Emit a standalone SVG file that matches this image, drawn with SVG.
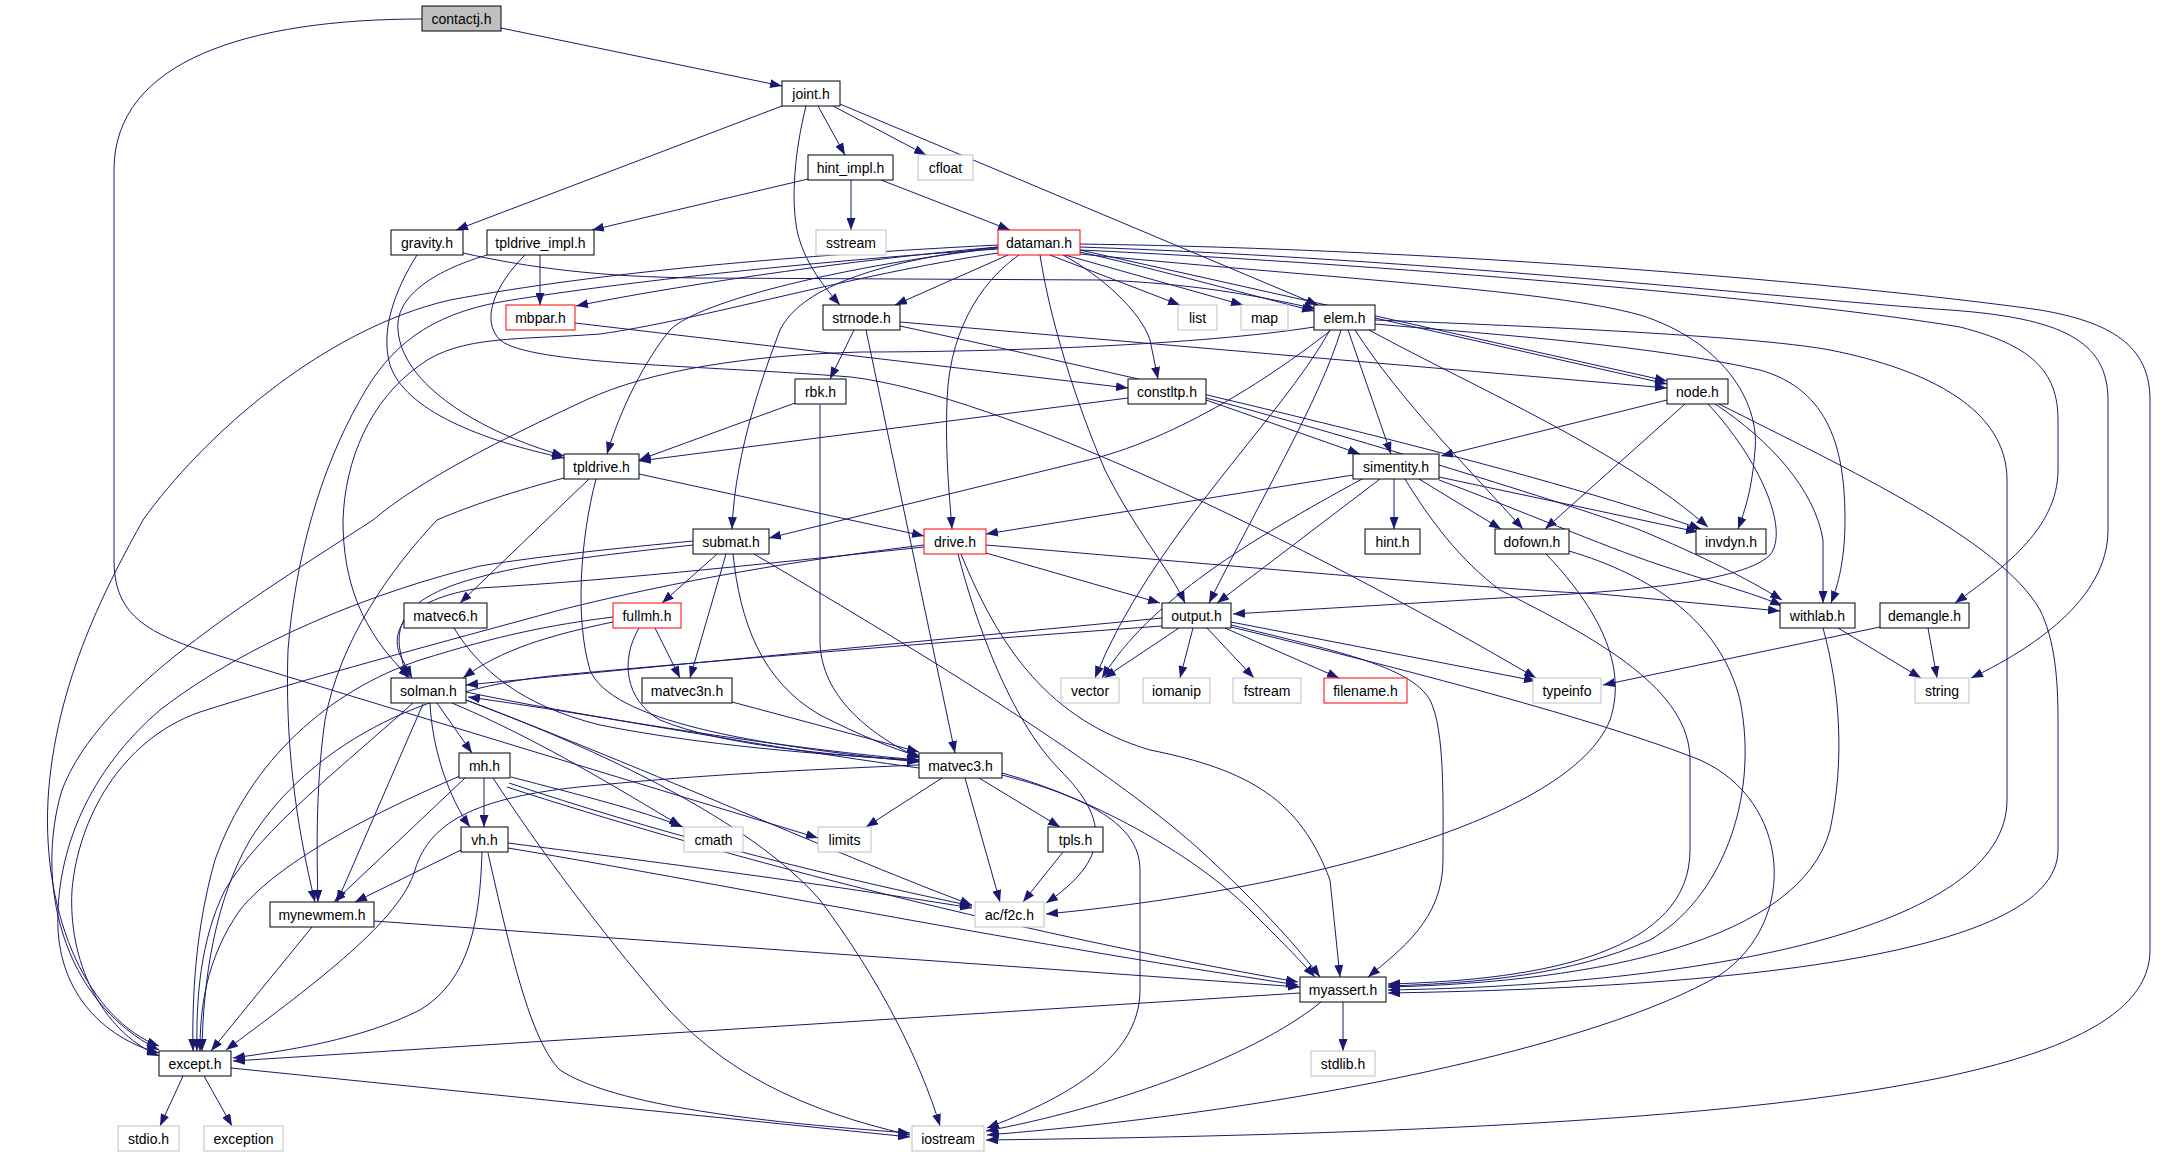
<svg xmlns="http://www.w3.org/2000/svg" width="2165" height="1157" viewBox="0 0 2165 1157">
<defs>
<marker id="a" markerUnits="userSpaceOnUse" markerWidth="12" markerHeight="9" refX="12" refY="4.5" orient="auto"><path d="M0,0 L12,4.5 L0,9 z" fill="#191970"/></marker>
</defs>
<style>
rect{fill:#fff;stroke:#000;stroke-width:1}
.g rect{stroke:#bfbfbf}
.r rect{stroke:#ff0000}
text{font-family:'Liberation Sans',Arial,sans-serif;font-size:14px;text-anchor:middle;fill:#000}
#edges path{fill:none;stroke:#191970;stroke-width:1;marker-end:url(#a)}
</style>
<rect x="0" y="0" width="2165" height="1157" style="fill:#fff;stroke:none"/>
<g id="edges">
<path d="M501,28 L782,86"/>
<path d="M422,19 C250,19 114,60 114,170 L114,560 C114,610 140,630 200,650 L818,838"/>
<path d="M782,106 L456,230"/>
<path d="M806,106 C795,150 790,200 798,235 C806,265 825,288 840,305"/>
<path d="M818,106 L845,155"/>
<path d="M833,106 L926,155"/>
<path d="M840,104 L1318,305"/>
<path d="M808,179 L592,230"/>
<path d="M851,180 L851,230"/>
<path d="M881,180 L1010,230"/>
<path d="M463,253 C530,268 600,277 700,278 L1100,280 C1190,283 1260,296 1316,309"/>
<path d="M417,255 C395,290 380,330 390,365 C405,410 480,440 564,458"/>
<path d="M540,255 L540,305"/>
<path d="M487,255 C430,272 395,298 398,330 C402,385 480,432 564,456"/>
<path d="M525,255 C495,285 480,320 500,340 C530,365 700,365 851,377 C1000,395 1300,540 1536,678"/>
<path d="M575,323 L1128,388"/>
<path d="M854,330 L830,379"/>
<path d="M866,330 L955,753"/>
<path d="M900,322 L1667,388"/>
<path d="M900,326 C1150,380 1500,460 1701,529"/>
<path d="M795,403 L639,460"/>
<path d="M820,405 L820,640 C820,690 860,730 919,758"/>
<path d="M998,247 C850,260 680,285 576,306"/>
<path d="M1008,255 L895,305"/>
<path d="M1050,255 L1180,305"/>
<path d="M1065,255 L1243,305"/>
<path d="M1080,252 C1160,270 1250,295 1314,311"/>
<path d="M998,248 C850,265 700,300 670,330 C645,360 620,410 607,454"/>
<path d="M1019,255 C990,275 950,320 947,400 C945,460 950,500 952,529"/>
<path d="M998,247 C870,262 800,290 780,330 C765,370 735,450 732,529"/>
<path d="M1063,255 C1100,275 1140,310 1150,340 L1158,379"/>
<path d="M1040,255 C1050,320 1075,400 1105,470 C1135,530 1170,570 1185,603"/>
<path d="M998,245 C800,255 600,272 450,300 C320,330 200,440 143,520 C110,580 55,680 48,800 C42,920 90,1020 159,1046"/>
<path d="M998,249 C800,262 600,285 500,302 C430,315 390,345 360,400 C320,470 295,560 288,650 C285,740 295,820 315,902"/>
<path d="M998,253 C850,275 700,320 600,334 C520,340 460,335 420,365 C370,400 345,460 343,520 C343,580 360,630 410,678"/>
<path d="M1080,250 L1667,381"/>
<path d="M1080,254 C1350,280 1550,290 1640,315 C1720,340 1760,400 1755,450 C1752,490 1745,510 1738,529"/>
<path d="M1080,250 C1400,265 1800,300 1960,327 C2030,345 2058,370 2058,420 L2058,470 C2058,530 2000,570 1955,603"/>
<path d="M1080,247 C1450,260 1800,300 1950,310 C2060,318 2108,340 2108,400 L2108,530 C2108,600 2030,650 1971,678"/>
<path d="M1080,244 C1500,250 1900,290 2040,310 C2110,322 2150,345 2150,400 L2150,950 C2150,1080 1800,1130 986,1140"/>
<path d="M1375,320 C1500,325 1750,335 1830,350 C1930,370 2007,410 2007,480 L2007,800 C2007,930 1700,985 1388,990"/>
<path d="M1375,324 C1500,335 1650,345 1760,370 C1830,390 1845,450 1845,520 C1845,560 1838,585 1831,603"/>
<path d="M1375,318 L1667,384"/>
<path d="M1348,330 L1391,454"/>
<path d="M1355,330 C1400,400 1470,470 1523,529"/>
<path d="M1369,330 C1480,390 1620,450 1708,527"/>
<path d="M1341,330 C1320,400 1260,500 1209,603"/>
<path d="M1330,330 C1280,420 1150,540 1095,678"/>
<path d="M1330,331 C1280,370 1180,440 1080,462 L769,538"/>
<path d="M1314,327 C1200,345 1000,352 861,352 C750,355 650,370 586,400 C500,440 420,480 373,520 C250,600 100,690 62,790 C35,880 60,1000 159,1050"/>
<path d="M1719,404 C1850,470 2000,540 2040,610 C2055,640 2058,680 2058,720 L2058,850 C2058,960 1700,988 1388,993"/>
<path d="M1715,404 C1770,440 1815,490 1823,540 L1823,603"/>
<path d="M1667,400 L1441,456"/>
<path d="M1685,404 L1545,529"/>
<path d="M1708,404 C1760,460 1790,530 1770,555 C1740,585 1600,593 1500,598 L1233,614"/>
<path d="M1880,627 L1603,685"/>
<path d="M1928,628 L1937,678"/>
<path d="M1838,628 L1921,678"/>
<path d="M1823,628 C1840,690 1845,760 1830,830 C1800,940 1600,982 1388,987"/>
<path d="M1569,551 C1650,575 1720,620 1740,700 C1760,800 1720,900 1650,940 C1570,975 1480,983 1388,986"/>
<path d="M1546,554 C1590,600 1630,660 1610,720 C1570,820 1300,890 1046,914"/>
<path d="M1405,479 C1430,520 1460,560 1500,590 C1600,640 1690,690 1690,760 L1690,850 C1690,950 1550,980 1388,984"/>
<path d="M1353,475 L986,534"/>
<path d="M1394,479 L1394,529"/>
<path d="M1419,479 L1501,529"/>
<path d="M1439,477 L1698,532"/>
<path d="M1439,480 C1520,510 1600,545 1660,565 C1720,585 1760,595 1782,606"/>
<path d="M1380,479 L1217,603"/>
<path d="M1362,479 C1250,540 1150,600 1102,678"/>
<path d="M1128,398 L639,461"/>
<path d="M1206,400 L1360,454"/>
<path d="M1206,398 C1400,450 1600,515 1640,530 C1700,555 1750,580 1782,600"/>
<path d="M639,474 L924,536"/>
<path d="M589,479 L460,603"/>
<path d="M596,479 C580,540 575,620 590,670 C610,720 750,745 919,762"/>
<path d="M564,478 C500,495 460,510 437,520 C390,570 340,640 325,720 C315,790 317,860 318,902"/>
<path d="M717,554 L662,603"/>
<path d="M726,554 L690,678"/>
<path d="M733,554 C740,620 760,680 820,715 C860,735 890,748 921,757"/>
<path d="M754,554 C900,640 1100,760 1200,850 C1260,905 1300,950 1320,977"/>
<path d="M693,545 C600,555 520,565 480,577 C410,595 395,620 400,650 C403,665 405,672 407,678"/>
<path d="M693,541 C620,548 540,556 480,566 C380,590 250,640 160,710 C90,770 55,850 58,930 C62,1000 110,1040 159,1053"/>
<path d="M924,547 C800,560 620,580 480,588 C405,600 390,630 400,655 L412,678"/>
<path d="M924,545 C800,560 680,580 560,610 C450,640 300,680 200,712 C120,740 78,820 72,890 C68,960 100,1030 159,1056"/>
<path d="M986,553 L1160,603"/>
<path d="M986,545 C1200,563 1500,590 1600,594 L1780,611"/>
<path d="M958,554 C975,620 1010,720 1060,770 C1110,820 1110,860 1046,903"/>
<path d="M961,554 C1000,650 1050,720 1150,750 C1250,770 1300,800 1330,880 L1340,977"/>
<path d="M613,622 C550,635 500,650 463,678"/>
<path d="M655,628 L680,678"/>
<path d="M639,628 C620,660 625,700 660,720 C720,745 830,755 919,761"/>
<path d="M613,617 C550,625 500,635 420,660 C330,690 250,760 215,860 C195,930 192,1000 193,1051"/>
<path d="M1162,618 L466,685"/>
<path d="M1162,626 C900,645 700,662 560,675 C400,690 300,760 250,840 C215,900 203,980 202,1051"/>
<path d="M1179,628 L1104,678"/>
<path d="M1193,628 L1180,678"/>
<path d="M1207,628 L1254,678"/>
<path d="M1225,628 L1339,678"/>
<path d="M1231,622 L1536,681"/>
<path d="M1231,625 C1330,650 1410,665 1430,700 C1445,730 1443,800 1443,860 C1443,920 1400,950 1368,977"/>
<path d="M1231,627 C1400,668 1600,720 1700,760 C1790,800 1800,920 1720,975 C1600,1045 1300,1110 987,1135"/>
<path d="M454,628 C480,670 520,705 600,725 C700,745 820,755 919,760"/>
<path d="M732,702 L919,752"/>
<path d="M437,703 L472,753"/>
<path d="M430,703 C432,750 450,800 470,827"/>
<path d="M452,703 C540,740 620,790 681,826"/>
<path d="M466,700 C650,770 850,860 972,905"/>
<path d="M466,700 C600,750 750,820 820,900 C880,980 920,1060 940,1126"/>
<path d="M466,692 C600,720 800,750 919,760"/>
<path d="M919,768 C750,745 600,715 468,697"/>
<path d="M423,704 L337,902"/>
<path d="M413,703 C350,760 260,830 225,890 C200,940 196,1000 197,1051"/>
<path d="M484,778 L484,827"/>
<path d="M466,777 L334,902"/>
<path d="M460,776 C380,810 280,860 240,910 C205,960 200,1010 200,1051"/>
<path d="M511,777 C580,795 640,810 683,827"/>
<path d="M509,783 C650,830 800,870 972,906"/>
<path d="M507,787 C700,850 1000,930 1298,982"/>
<path d="M493,778 C540,850 600,930 660,1000 C720,1070 800,1110 910,1135"/>
<path d="M461,850 L355,902"/>
<path d="M482,852 C480,920 470,980 420,1010 C360,1040 290,1050 233,1058"/>
<path d="M508,843 C600,855 800,880 972,908"/>
<path d="M508,848 C700,880 1000,940 1298,985"/>
<path d="M488,853 C510,950 530,1040 560,1070 C620,1110 800,1125 910,1133"/>
<path d="M312,927 L211,1051"/>
<path d="M374,921 L1300,987"/>
<path d="M919,765 C800,770 700,775 600,785 C480,795 430,820 415,870 C400,920 320,980 226,1050"/>
<path d="M942,778 L866,827"/>
<path d="M965,778 L1000,902"/>
<path d="M979,778 L1060,827"/>
<path d="M1002,773 C1100,800 1200,860 1250,910 C1280,940 1300,960 1315,977"/>
<path d="M1002,775 C1100,800 1140,830 1140,870 L1140,990 C1140,1060 1060,1100 987,1128"/>
<path d="M1063,852 L1023,902"/>
<path d="M1343,1002 L1343,1051"/>
<path d="M1300,993 L233,1061"/>
<path d="M1321,1002 C1250,1060 1100,1110 986,1131"/>
<path d="M183,1076 L160,1126"/>
<path d="M204,1076 L232,1126"/>
<path d="M231,1068 L910,1137"/>
</g>
<g id="contactj"><rect x="422" y="6" width="79" height="25" style="fill:#bfbfbf"/><text x="461.5" y="23.5">contactj.h</text></g>
<g id="joint"><rect x="782" y="81" width="58" height="25"/><text x="811" y="98.5">joint.h</text></g>
<g id="hint_impl"><rect x="808" y="155" width="85" height="25"/><text x="850.5" y="172.5">hint_impl.h</text></g>
<g id="cfloat" class="g"><rect x="918" y="155" width="55" height="25"/><text x="945.5" y="172.5">cfloat</text></g>
<g id="gravity"><rect x="391" y="230" width="72" height="25"/><text x="427" y="247.5">gravity.h</text></g>
<g id="tpldrive_impl"><rect x="487" y="230" width="107" height="25"/><text x="540.5" y="247.5">tpldrive_impl.h</text></g>
<g id="sstream" class="g"><rect x="816" y="230" width="70" height="25"/><text x="851" y="247.5">sstream</text></g>
<g id="dataman" class="r"><rect x="998" y="230" width="82" height="25"/><text x="1039" y="247.5">dataman.h</text></g>
<g id="mbpar" class="r"><rect x="506" y="305" width="69" height="25"/><text x="540.5" y="322.5">mbpar.h</text></g>
<g id="strnode"><rect x="823" y="305" width="77" height="25"/><text x="861.5" y="322.5">strnode.h</text></g>
<g id="list" class="g"><rect x="1178" y="305" width="39" height="25"/><text x="1197.5" y="322.5">list</text></g>
<g id="map" class="g"><rect x="1241" y="305" width="47" height="25"/><text x="1264.5" y="322.5">map</text></g>
<g id="elem"><rect x="1314" y="305" width="61" height="25"/><text x="1344.5" y="322.5">elem.h</text></g>
<g id="rbk"><rect x="795" y="379" width="51" height="25"/><text x="820.5" y="396.5">rbk.h</text></g>
<g id="constltp"><rect x="1128" y="379" width="78" height="25"/><text x="1167" y="396.5">constltp.h</text></g>
<g id="node"><rect x="1667" y="379" width="61" height="25"/><text x="1697.5" y="396.5">node.h</text></g>
<g id="tpldrive"><rect x="564" y="454" width="75" height="25"/><text x="601.5" y="471.5">tpldrive.h</text></g>
<g id="simentity"><rect x="1353" y="454" width="86" height="25"/><text x="1396" y="471.5">simentity.h</text></g>
<g id="submat"><rect x="693" y="529" width="76" height="25"/><text x="731" y="546.5">submat.h</text></g>
<g id="drive" class="r"><rect x="924" y="529" width="62" height="25"/><text x="955" y="546.5">drive.h</text></g>
<g id="hint"><rect x="1365" y="529" width="55" height="25"/><text x="1392.5" y="546.5">hint.h</text></g>
<g id="dofown"><rect x="1495" y="529" width="74" height="25"/><text x="1532" y="546.5">dofown.h</text></g>
<g id="invdyn"><rect x="1696" y="529" width="70" height="25"/><text x="1731" y="546.5">invdyn.h</text></g>
<g id="matvec6"><rect x="404" y="603" width="83" height="25"/><text x="445.5" y="620.5">matvec6.h</text></g>
<g id="fullmh" class="r"><rect x="613" y="603" width="68" height="25"/><text x="647" y="620.5">fullmh.h</text></g>
<g id="output"><rect x="1162" y="603" width="69" height="25"/><text x="1196.5" y="620.5">output.h</text></g>
<g id="withlab"><rect x="1780" y="603" width="75" height="25"/><text x="1817.5" y="620.5">withlab.h</text></g>
<g id="demangle"><rect x="1880" y="603" width="89" height="25"/><text x="1924.5" y="620.5">demangle.h</text></g>
<g id="solman"><rect x="391" y="678" width="75" height="25"/><text x="428.5" y="695.5">solman.h</text></g>
<g id="matvec3n"><rect x="642" y="678" width="90" height="25"/><text x="687" y="695.5">matvec3n.h</text></g>
<g id="vector" class="g"><rect x="1061" y="678" width="58" height="25"/><text x="1090" y="695.5">vector</text></g>
<g id="iomanip" class="g"><rect x="1143" y="678" width="67" height="25"/><text x="1176.5" y="695.5">iomanip</text></g>
<g id="fstream" class="g"><rect x="1233" y="678" width="68" height="25"/><text x="1267" y="695.5">fstream</text></g>
<g id="filename" class="r"><rect x="1324" y="678" width="83" height="25"/><text x="1365.5" y="695.5">filename.h</text></g>
<g id="typeinfo" class="g"><rect x="1533" y="678" width="68" height="25"/><text x="1567" y="695.5">typeinfo</text></g>
<g id="string" class="g"><rect x="1915" y="678" width="54" height="25"/><text x="1942" y="695.5">string</text></g>
<g id="mh"><rect x="459" y="753" width="51" height="25"/><text x="484.5" y="770.5">mh.h</text></g>
<g id="matvec3"><rect x="919" y="753" width="83" height="25"/><text x="960.5" y="770.5">matvec3.h</text></g>
<g id="vh"><rect x="461" y="827" width="47" height="25"/><text x="484.5" y="844.5">vh.h</text></g>
<g id="cmath" class="g"><rect x="684" y="827" width="59" height="25"/><text x="713.5" y="844.5">cmath</text></g>
<g id="limits" class="g"><rect x="818" y="827" width="53" height="25"/><text x="844.5" y="844.5">limits</text></g>
<g id="tpls"><rect x="1048" y="827" width="55" height="25"/><text x="1075.5" y="844.5">tpls.h</text></g>
<g id="mynewmem"><rect x="270" y="902" width="104" height="25"/><text x="322" y="919.5">mynewmem.h</text></g>
<g id="acf2c" class="g"><rect x="975" y="902" width="69" height="25"/><text x="1009.5" y="919.5">ac/f2c.h</text></g>
<g id="myassert"><rect x="1300" y="977" width="86" height="25"/><text x="1343" y="994.5">myassert.h</text></g>
<g id="except"><rect x="159" y="1051" width="72" height="25"/><text x="195" y="1068.5">except.h</text></g>
<g id="stdlib" class="g"><rect x="1311" y="1051" width="64" height="25"/><text x="1343" y="1068.5">stdlib.h</text></g>
<g id="stdio" class="g"><rect x="118" y="1126" width="61" height="25"/><text x="148.5" y="1143.5">stdio.h</text></g>
<g id="exception" class="g"><rect x="204" y="1126" width="79" height="25"/><text x="243.5" y="1143.5">exception</text></g>
<g id="iostream" class="g"><rect x="912" y="1126" width="72" height="25"/><text x="948" y="1143.5">iostream</text></g>
</svg>
